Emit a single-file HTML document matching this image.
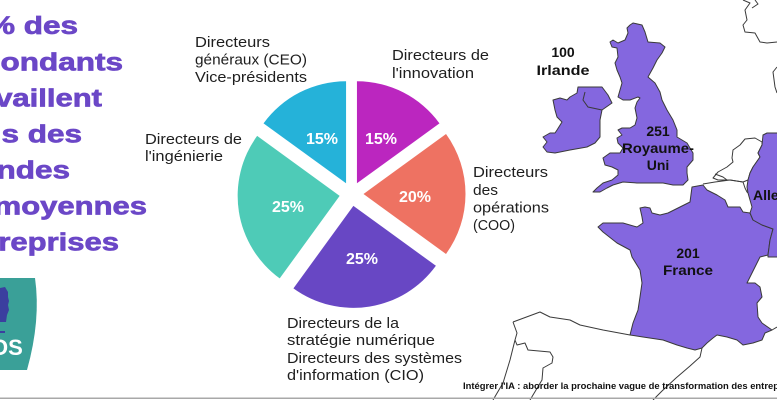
<!DOCTYPE html>
<html><head><meta charset="utf-8"><style>
html,body{margin:0;padding:0;background:#fff;}
svg{display:block;}
text{font-family:"Liberation Sans",sans-serif;}
</style></head><body>
<svg width="777" height="400" viewBox="0 0 777 400" xmlns="http://www.w3.org/2000/svg">
<rect width="777" height="400" fill="#fff"/>

<!-- Map outlines -->
<g fill="none" stroke="#3a3a3a" stroke-width="1" stroke-linejoin="round">
  <path d="M513,322 L540,312 L550,317 L570,320 L580,325 L603,330 L630,335"/>
  <path d="M513,322 L517,333 L515,340 L517,345 L525,343 L528,350 L550,352 L553,357 L552,363 L543,368 L542,380 L530,400"/>
  <path d="M515,340 L510,360 L503,383 L493,400"/>
  <path d="M702,348 L700,357 L690,366 L676,378 L662,391 L653,400"/>
  <path d="M743,0 L750,3 L745,10 L747,20 L743,25 L745,32 L755,33 L760,42 L767,43 L777,42"/>
  <path d="M755,0 L758,4 L752,8"/>
  <path d="M777,67 L773,72 L775,87 L777,93"/>
  <path d="M772,330 L777,327"/>
  <path d="M768,257 L777,257"/>
  <path d="M733,150 L740,145 L745,139 L755,138 L762,142 L762,145 L758,153 L760,157 L753,167 L750,173 L748,180 L743,182 L730,180 L718,180 L713,178 L718,172 L727,167 L733,162 L732,158 Z" fill="#fff"/>
  <path d="M715,174 L723,177 L727,180"/>
  <path d="M703,184 L715,182 L730,180 L743,182 L745,188 L747,192 L748,193"/>
</g>

<!-- Map countries -->
<g fill="#8467df" stroke="#3a3a3a" stroke-width="1" stroke-linejoin="round">
  <path d="M585,87 L592,87 L602,87 L608,95 L612,103 L602,110 L600,120 L600,137 L595,143 L587,147 L570,150 L555,153 L547,152 L543,147 L547,142 L543,137 L550,133 L555,133 L557,130 L562,122 L557,117 L555,110 L553,100 L560,98 L567,100 L570,97 L577,93 L578,87 Z"/>
  <path d="M630,25 L633,23 L642,25 L645,32 L648,42 L660,43 L665,47 L662,53 L657,60 L653,68 L648,77 L655,83 L660,92 L662,100 L667,110 L673,120 L677,130 L677,137 L687,143 L693,153 L693,160 L687,167 L687,173 L688,180 L683,185 L673,185 L663,183 L650,183 L637,183 L623,182 L613,185 L607,188 L600,192 L593,192 L597,188 L603,183 L612,180 L618,175 L618,170 L612,167 L605,165 L603,158 L610,153 L620,153 L623,148 L618,143 L617,138 L622,135 L618,130 L622,128 L630,128 L635,125 L637,118 L635,108 L637,102 L640,98 L638,97 L630,100 L623,100 L618,97 L620,90 L622,83 L620,77 L617,70 L615,63 L618,57 L617,48 L612,47 L610,42 L613,40 L618,43 L625,40 L628,33 L627,28 Z"/>
  <path d="M692,187 L703,185 L707,190 L717,195 L725,200 L728,207 L740,207 L743,212 L750,213 L753,220 L762,225 L773,229 L770,240 L768,255 L760,257 L757,263 L750,277 L747,283 L755,283 L760,287 L762,297 L757,303 L758,317 L762,323 L772,330 L765,333 L762,340 L753,343 L743,345 L737,340 L727,337 L717,335 L713,338 L707,343 L702,348 L695,350 L687,348 L677,345 L663,340 L643,337 L630,335 L633,323 L638,310 L640,297 L642,283 L640,270 L632,257 L630,250 L617,243 L603,232 L598,227 L603,223 L623,223 L637,227 L643,223 L642,217 L640,208 L645,207 L650,208 L652,213 L660,215 L668,213 L680,207 L690,202 Z"/>
  <path d="M763,135 L767,133 L778,133 L778,257 L768,257 L768,255 L770,240 L773,229 L762,225 L753,220 L750,213 L752,207 L750,200 L748,193 L747,187 L748,180 L750,173 L753,167 L760,157 L758,153 L762,145 Z"/>
</g>
<path d="M585,92 L583,100 L588,107 L602,110" fill="none" stroke="#3a3a3a" stroke-width="1"/>

<!-- Map labels -->
<g fill="#111" font-weight="bold" font-size="14" text-anchor="middle">
  <text x="563" y="57">100</text>
  <text x="563" y="75" textLength="53" lengthAdjust="spacingAndGlyphs">Irlande</text>
  <text x="658" y="136">251</text>
  <text x="658" y="153" textLength="72" lengthAdjust="spacingAndGlyphs">Royaume-</text>
  <text x="658" y="170">Uni</text>
  <text x="688" y="258">201</text>
  <text x="688" y="275" textLength="50" lengthAdjust="spacingAndGlyphs">France</text>
  <text x="753" y="200" text-anchor="start">Allemagne</text>
</g>

<!-- Pie -->
<path d="M356.95,183.31 L356.95,81.31 A102,102 0 0 1 439.47,123.36 Z" fill="#bb26bf"/>
<path d="M363.5,194 L446.02,134.05 A102,102 0 0 1 446.02,253.95 Z" fill="#ee7262"/>
<path d="M353.38,205.85 L435.9,265.8 A102,102 0 0 1 293.43,288.37 Z" fill="#6847c4"/>
<path d="M339.65,195.88 L279.7,278.4 A102,102 0 0 1 257.13,135.93 Z" fill="#4ecbb7"/>
<path d="M346.05,183.31 L263.53,123.36 A102,102 0 0 1 346.05,81.31 Z" fill="#25b2d9"/>

<g fill="#fff" font-weight="bold" font-size="16" text-anchor="middle">
  <text x="322" y="144">15%</text>
  <text x="381" y="144">15%</text>
  <text x="415" y="202">20%</text>
  <text x="288" y="212">25%</text>
  <text x="362" y="264">25%</text>
</g>

<!-- Pie labels -->
<g fill="#1e1e1e" font-size="15">
  <text x="195" y="47" textLength="75" lengthAdjust="spacingAndGlyphs">Directeurs</text>
  <text x="195" y="64.5" textLength="112" lengthAdjust="spacingAndGlyphs">généraux (CEO)</text>
  <text x="195" y="82" textLength="112" lengthAdjust="spacingAndGlyphs">Vice-présidents</text>

  <text x="392" y="60" textLength="97" lengthAdjust="spacingAndGlyphs">Directeurs de</text>
  <text x="392" y="78" textLength="82" lengthAdjust="spacingAndGlyphs">l'innovation</text>

  <text x="145" y="144" textLength="97" lengthAdjust="spacingAndGlyphs">Directeurs de</text>
  <text x="145" y="161" textLength="78" lengthAdjust="spacingAndGlyphs">l'ingénierie</text>

  <text x="473" y="177" textLength="75" lengthAdjust="spacingAndGlyphs">Directeurs</text>
  <text x="473" y="195" textLength="25" lengthAdjust="spacingAndGlyphs">des</text>
  <text x="473" y="212.5" textLength="76" lengthAdjust="spacingAndGlyphs">opérations</text>
  <text x="473" y="230" textLength="42" lengthAdjust="spacingAndGlyphs">(COO)</text>

  <text x="287" y="328" textLength="112" lengthAdjust="spacingAndGlyphs">Directeurs de la</text>
  <text x="287" y="345" textLength="148" lengthAdjust="spacingAndGlyphs">stratégie numérique</text>
  <text x="287" y="363" textLength="175" lengthAdjust="spacingAndGlyphs">Directeurs des systèmes</text>
  <text x="287" y="380" textLength="137" lengthAdjust="spacingAndGlyphs">d'information (CIO)</text>
</g>

<!-- Title -->
<g fill="#6b47c7" stroke="#6b47c7" stroke-width="0.7" font-weight="bold" font-size="25" text-anchor="end">
  <text transform="translate(78,34) scale(1.26,1)">47% des</text>
  <text transform="translate(123,70.5) scale(1.26,1)">répondants</text>
  <text transform="translate(102,106.5) scale(1.24,1)">travaillent</text>
  <text transform="translate(82,142.5) scale(1.26,1)">dans des</text>
  <text transform="translate(70,178.5) scale(1.26,1)">grandes</text>
  <text transform="translate(147,214.5) scale(1.24,1)">et moyennes</text>
  <text transform="translate(119,250.5) scale(1.24,1)">entreprises</text>
</g>

<!-- Logo -->
<path d="M0,278 L35,278 Q41,320 27,370 L0,370 Z" fill="#3aa098"/>
<path d="M0,288 L5,287 L8,292 L8,297 L9,301 L8,305 L9,310 L7,315 L6,322 L0,322 Z" fill="#3b3f9f"/>
<rect x="0" y="331" width="5" height="2" fill="#3b3f9f"/>
<text x="-9" y="355" fill="#fff" font-weight="bold" font-size="22">OS</text>

<!-- Footer -->
<text x="463" y="389" fill="#111" font-weight="bold" font-size="9" textLength="338" lengthAdjust="spacingAndGlyphs">Intégrer l'IA : aborder la prochaine vague de transformation des entreprises</text>
<rect x="0" y="397.5" width="777" height="1.5" fill="#a8a8a8"/>
</svg>
</body></html>
